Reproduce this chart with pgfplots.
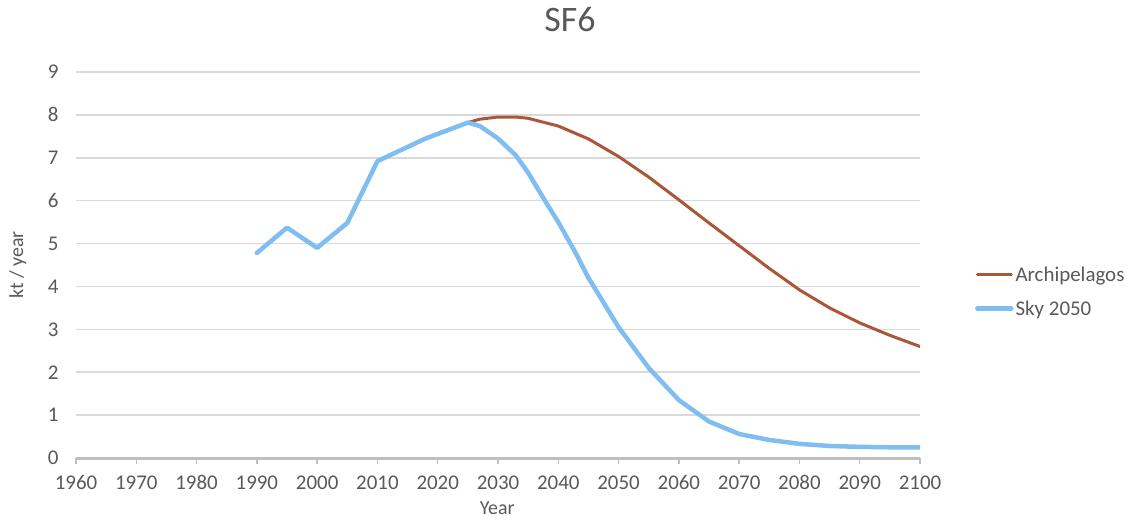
\documentclass[border=0pt]{standalone}
\usepackage{pgfplots}
\pgfplotsset{compat=1.18}
\usepackage{fontspec}
\setmainfont{Carlito}
\definecolor{arch}{RGB}{170,86,56}
\definecolor{sky}{RGB}{128,189,240}
\definecolor{txt}{RGB}{89,89,89}
\definecolor{gridc}{RGB}{217,217,217}
\definecolor{axc}{RGB}{191,191,191}
\begin{document}
\begin{tikzpicture}
\useasboundingbox (-76bp,-64bp) rectangle (1060bp,458bp);
\begin{axis}[
  at={(0,0)}, anchor=south west,
  scale only axis, width=844bp, height=386bp,
  xmin=1960, xmax=2100, ymin=0, ymax=9,
  xtick={1960,1970,...,2100}, ytick={0,1,...,9},
  /pgf/number format/assume math mode=true,
  /pgf/number format/1000 sep={},
  axis x line*=bottom,
  axis y line*=left,
  x axis line style={draw=axc, line width=3bp, -},
  y axis line style={draw=none},
  xtick align=outside,
  major tick length=6bp,
  xtick style={draw=axc, line width=1.5bp},
  ytick style={draw=none},
  ymajorgrids,
  grid style={draw=gridc, line width=1.5bp},
  xticklabel style={font=\fontsize{21}{24}\selectfont, text=txt, yshift=-8bp},
  yticklabel style={font=\fontsize{21}{24}\selectfont, text=txt, xshift=-14bp},
  xlabel={Year},
  xlabel style={at={(axis description cs:0.499,-0.13)}, anchor=center, font=\fontsize{20}{24}\selectfont, text=txt},
  ylabel={kt / year},
  ylabel style={at={(axis description cs:-0.069,0.5)}, anchor=center, font=\fontsize{20}{24}\selectfont, text=txt},
  legend style={at={(axis description cs:1.065,0.431)}, anchor=west, draw=none, fill=none,
    font=\fontsize{21}{24}\selectfont, text=txt, row sep=14bp, inner xsep=0pt,
    /tikz/every odd column/.style={column sep=0pt}},
  legend cell align=left,
  legend image code/.code={\draw[#1] (0bp,0bp) -- (34bp,0bp);},
]
\addplot[arch, line width=3bp, line join=round, line cap=round] coordinates {
(2025,7.82) (2027,7.90) (2030,7.95) (2033,7.95) (2035,7.92) (2040,7.74) (2045,7.44) (2050,7.03)
(2055,6.55) (2060,6.02) (2065,5.48) (2070,4.95) (2075,4.42) (2080,3.92)
(2085,3.50) (2090,3.15) (2095,2.86) (2100,2.60)};
\addlegendentry{Archipelagos}
\addplot[sky, line width=4.5bp, line join=round, line cap=round] coordinates {
(1990,4.78) (1995,5.37) (2000,4.90) (2005,5.48) (2010,6.92) (2013,7.12) (2018,7.45)
(2025,7.82) (2027,7.74) (2030,7.45) (2033,7.05) (2035,6.65) (2038,5.95) (2040,5.50) (2043,4.75) (2045,4.20)
(2050,3.05) (2055,2.10) (2060,1.35) (2065,0.85) (2070,0.56) (2075,0.42)
(2080,0.33) (2085,0.28) (2090,0.26) (2095,0.25) (2100,0.25)};
\addlegendentry{Sky 2050}
\end{axis}
\node[font=\fontsize{36}{40}\selectfont, text=txt] at (494bp,438bp) {SF6};
\end{tikzpicture}
\end{document}
